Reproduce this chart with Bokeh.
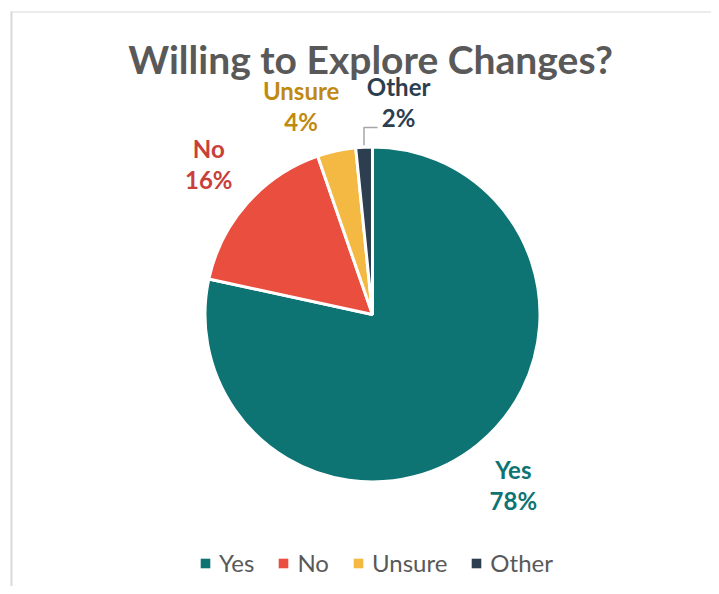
import numpy as np
from bokeh.plotting import figure
from bokeh.models import Range1d, Legend, LegendItem, ColumnDataSource, Label
from bokeh.core.properties import value
from bokeh.embed import file_html
from bokeh.resources import INLINE

# ---- data ----
categories = ["Yes", "No", "Unsure", "Other"]
shares = [78.4, 16.3, 3.7, 1.6]
pct_labels = ["78%", "16%", "4%", "2%"]
colors = ["#0E7373", "#E94E3F", "#F4B942", "#2C3E50"]
label_colors = ["#0E7373", "#C9403A", "#BF8A12", "#2C3E50"]
title_text = "Willing to Explore Changes?"

# ---- layout ----
W, H = 711, 586
TOP = 594  # data y = TOP - screen y
FONT = "Lato"
cx, cy, R = 372, TOP - 314, 167.5
label_dist = [222, 222, 219, 213.5]
label_angle_shift = [-0.5, 0.9, -6.6, 9.9]

p = figure(width=W, height=H, x_range=Range1d(0, W), y_range=Range1d(TOP - H, TOP),
           x_axis_type=None, y_axis_type=None, output_backend="svg",
           toolbar_location=None, min_border=0)
p.grid.visible = False
p.outline_line_color = None
p.background_fill_color = "white"

# chart area border (top and left visible)
p.segment(x0=[10], y0=[TOP - 11.5], x1=[W], y1=[TOP - 11.5], line_color="#D9D9D9", line_width=1)
p.segment(x0=[11], y0=[TOP - 11], x1=[11], y1=[TOP - H], line_color="#D9D9D9", line_width=2)

frac = np.array(shares) / np.sum(shares)
cum = np.concatenate([[0.0], np.cumsum(frac)])
start = np.pi / 2 - 2 * np.pi * cum[:-1]
end = np.pi / 2 - 2 * np.pi * cum[1:]
src = ColumnDataSource(dict(cat=categories, start=start, end=end, color=colors))
p.wedge(x=cx, y=cy, radius=R, start_angle="start", end_angle="end", direction="clock",
        fill_color="color", line_color="white", line_width=3, source=src)

mid_deg = (cum[:-1] + cum[1:]) / 2 * 360
lab_deg = mid_deg + np.array(label_angle_shift)
lx = cx + np.array(label_dist) * np.sin(np.radians(lab_deg))
ly = cy + np.array(label_dist) * np.cos(np.radians(lab_deg))
lsrc = ColumnDataSource(dict(x=lx, y=ly, name=categories, pct=pct_labels, color=label_colors))
p.text(x="x", y="y", text="name", source=lsrc, text_color="color", text_align="center",
       text_baseline="middle", y_offset=-16.5, text_font=value(FONT), text_font_style="bold",
       text_font_size="24px")
p.text(x="x", y="y", text="pct", source=lsrc, text_color="color", text_align="center",
       text_baseline="middle", y_offset=14.5, text_font=value(FONT), text_font_style="bold",
       text_font_size="24px")

# leader line for the small "Other" slice
i = 3
ex = cx + (R + 2) * np.sin(np.radians(mid_deg[i]))
ey = cy + (R + 2) * np.cos(np.radians(mid_deg[i]))
ky = ly[i] - 25
p.line(x=[ex, ex, lx[i] - 21], y=[ey, ky, ky], line_color="#A6A6A6", line_width=1.5)

title = Label(x=370, y=TOP - 58, text=title_text, text_align="center", text_baseline="middle",
              text_font_size="39px", text_font_style="bold", text_color="#595959", text_font=FONT)
p.add_layout(title)

# legend swatches (one hidden row each so the legend can draw its swatch)
items = []
for c, col in zip(categories, colors):
    r = p.quad(left=[-50], right=[-40], top=[-40], bottom=[-50], fill_color=col, line_color=None)
    items.append(LegendItem(label=c, renderers=[r]))
legend = Legend(items=items, orientation="horizontal", location=(199, 9),
                glyph_width=12, glyph_height=12, label_text_font_size="24px",
                label_text_color="#595959", label_text_font=FONT, spacing=23,
                label_standoff=8, border_line_color=None, background_fill_alpha=0,
                padding=0, margin=0, label_height=24, label_text_baseline="middle")
p.add_layout(legend, "center")

open("out.html", "w").write(file_html(p, INLINE))
